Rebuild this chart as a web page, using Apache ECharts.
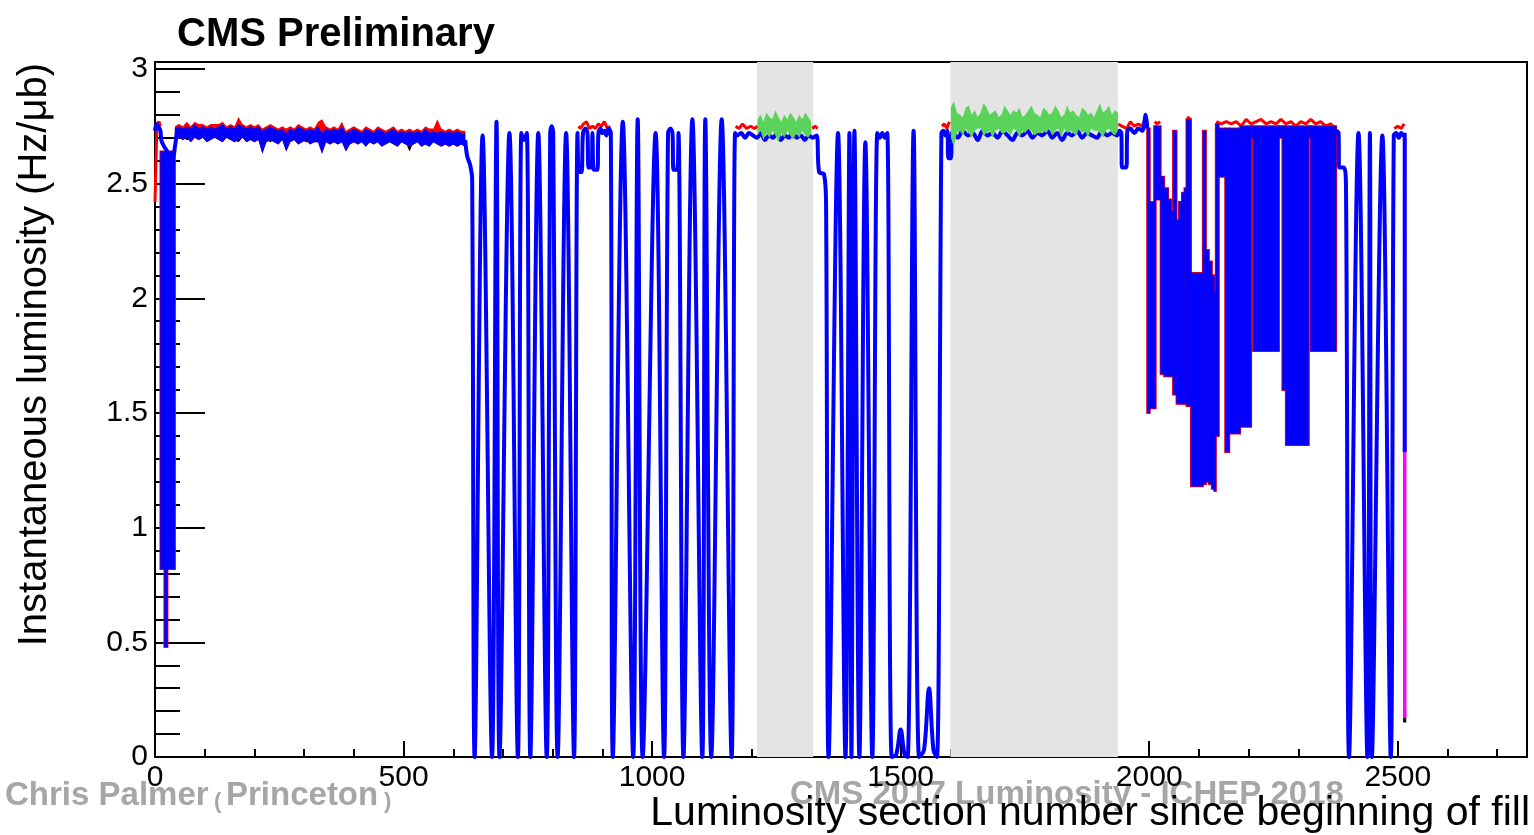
<!DOCTYPE html>
<html><head><meta charset="utf-8">
<script src="https://cdn.jsdelivr.net/npm/echarts@6/dist/echarts.min.js"></script>
<style>html,body{margin:0;padding:0;background:#fff}#c{width:1534px;height:835px}</style>
</head><body><div id="c"></div>
<script>
// ---------------- axis ticks ----------------
const xMajorTicks = [0, 500, 1000, 1500, 2000, 2500];
const xMinorTicks = [100,200,300,400,600,700,800,900,1100,1200,1300,1400,1600,1700,1800,1900,2100,2200,2300,2400,2600,2700];
const yMajorTicks = [0, 0.5, 1, 1.5, 2, 2.5, 3];
const yMinorTicks = [0.1,0.2,0.3,0.4,0.6,0.7,0.8,0.9,1.1,1.2,1.3,1.4,1.6,1.7,1.8,1.9,2.1,2.2,2.3,2.4,2.6,2.7,2.8,2.9];

// ---------------- shaded lumi-section ranges ----------------
const grayBands = [[1211, 1324], [1600, 1937]];

// ---------------- first long plateau (x = 40, 48, ... 624): noisy envelopes ----------------
const plateau1X0 = 40, plateau1Step = 8;
const plateau1BlueHi = [2.74,2.75,2.74,2.75,2.74,2.76,2.74,2.75,2.74,2.75, 2.74,2.75,2.76,2.74,2.75,2.74,2.76,2.75,2.74,2.75,
  2.74,2.75,2.73,2.74,2.75,2.74,2.73,2.74,2.72,2.74, 2.73,2.75,2.74,2.73,2.74,2.73,2.75,2.72,2.74,2.73,
  2.74,2.73,2.75,2.72,2.73,2.74,2.73,2.72,2.74,2.73, 2.72,2.74,2.73,2.72,2.73,2.74,2.72,2.73,2.72,2.73,
  2.72,2.73,2.72,2.74,2.72,2.73,2.72,2.73,2.72,2.73, 2.72,2.73,2.72,2.72];
const plateau1BlueLo = [2.69,2.70,2.69,2.70,2.68,2.70,2.69,2.70,2.68,2.69, 2.70,2.69,2.68,2.70,2.69,2.68,2.69,2.70,2.68,2.69,
  2.68,2.69,2.63,2.68,2.69,2.68,2.67,2.69,2.64,2.68, 2.69,2.67,2.68,2.69,2.67,2.68,2.68,2.63,2.68,2.67,
  2.68,2.67,2.68,2.64,2.67,2.68,2.67,2.68,2.66,2.68, 2.67,2.68,2.66,2.67,2.68,2.67,2.66,2.68,2.67,2.66,
  2.67,2.68,2.66,2.67,2.66,2.68,2.67,2.66,2.67,2.66, 2.67,2.66,2.67,2.66];
const plateau1RedHi = [2.75,2.76,2.75,2.77,2.75,2.77,2.76,2.76,2.75,2.76, 2.76,2.76,2.77,2.75,2.76,2.75,2.79,2.76,2.75,2.76,
  2.75,2.76,2.74,2.75,2.76,2.75,2.74,2.75,2.74,2.75, 2.74,2.76,2.75,2.74,2.75,2.74,2.77,2.78,2.75,2.74,
  2.75,2.74,2.77,2.73,2.74,2.75,2.74,2.73,2.75,2.74, 2.73,2.75,2.74,2.73,2.74,2.75,2.73,2.74,2.73,2.74,
  2.73,2.74,2.73,2.75,2.74,2.74,2.78,2.74,2.73,2.74, 2.73,2.74,2.73,2.73];
const plateau1BlackLo = [2.70,2.70,2.70,2.69,2.69,2.70,2.69,2.70,2.69,2.70, 2.70,2.70,2.69,2.70,2.69,2.69,2.68,2.70,2.69,2.70,
  2.69,2.69,2.66,2.69,2.68,2.69,2.68,2.69,2.66,2.69, 2.69,2.68,2.69,2.68,2.68,2.69,2.68,2.66,2.69,2.68,
  2.69,2.68,2.69,2.66,2.68,2.69,2.68,2.69,2.67,2.69, 2.68,2.69,2.67,2.68,2.68,2.68,2.67,2.69,2.68,2.64,
  2.68,2.68,2.67,2.68,2.67,2.69,2.67,2.67,2.68,2.67, 2.68,2.67,2.68,2.67];

// ---------------- blue (main) trace ----------------
const blueStart = [[0,2.73],[3,2.76],[6,2.75],[9,2.74],[11,2.73],[14,2.68],[36,2.62],[40,2.66],[44,2.72]];
const blueOsc1 = [[624,2.69],[628,2.62],[634,2.58],[638,2.52],[643,0],[659,2.71],[678,0],[687,2.77],[693,0],[713,2.72],[730,0],
  [737,2.72],[742,2.69],[748,2.72],[755,0],[771,2.72],[788,0],[795,2.72],[798,2.75],[801,2.72],[810,0],[827,2.72],[843,0],
  [850,2.72],[853,2.55],[858,2.55],[861,2.72],[866,2.74],[870,2.72],[872,2.57],[878,2.57],[880,2.72],[883,2.56],[890,2.56],
  [892,2.72],[896,2.74],[900,2.72],[904,2.73],[908,2.71],[912,2.74],[917,2.72],[921,0],[941,2.77],[962,0],[971,2.78],[981,0],
  [1007,2.72],[1024,0],[1032,2.72],[1037,2.74],[1041,2.72],[1043,2.56],[1050,2.56],[1053,2.72],[1063,0],[1081,2.78],[1101,0],
  [1107,2.78],[1119,0],[1140,2.78],[1160,0],[1167,2.72]];
const bluePlateau3 = [2.71,2.72,2.70,2.72,2.71,2.70,2.72,2.69,2.71,2.70,2.72,2.69,2.71,2.70,2.72,2.70,2.71,2.69,2.71,2.70,2.71]; // x = 1171 ... 1331
const blueOsc2 = [[1336,2.55],[1346,2.54],[1350,2.40],[1355,0],[1374,2.72],[1389,0],[1397,2.72],[1401,0],[1407,2.73],[1417,0],
  [1429,2.68],[1443,0],[1453,2.72],[1458,2.70],[1463,2.72],[1468,2.70],[1473,2.72],[1482,0],[1491,0.01],[1500,0.12],[1508,0.01],
  [1514,0],[1526,2.73],[1537,0],[1547,0.03],[1557,0.30],[1566,0.03],[1573,0],[1582,2.72],[1586,2.73],[1590,2.71],[1594,2.73],
  [1596,2.61],[1601,2.61],[1603,2.72]];
const bluePlateau4 = [2.72,2.70,2.73,2.71,2.72,2.69,2.73,2.71,2.72,2.70,2.73,2.71,2.69,2.72,2.71,2.73,2.70,2.72,2.71,2.73,
  2.70,2.72,2.69,2.72,2.71,2.73,2.70,2.72,2.71,2.70,2.73,2.71,2.72,2.71]; // x = 1605 ... 1935
const blueOsc3 = [[1940,2.73],[1944,2.72],[1945,2.57],[1954,2.57],[1956,2.73],[1962,2.74],[1970,2.72],[1978,2.74],[1986,2.73],[1993,2.80],[1996,2.74]];
const blueOsc4 = [[2376,2.73],[2381,2.72],[2382,2.57],[2392,2.57],[2396,2.45],[2402,0],[2421,2.72],[2439,0],[2444,2.72],[2448,0],
  [2469,2.71],[2486,0],[2492,2.71],[2497,2.72],[2502,2.70],[2507,2.72],[2511,2.71],[2514,2.72],[2514,1.33]];

// dense (rapidly alternating) regions: [xStart, xEnd, low, high]
const denseBlocks = [[11,40,0.82,2.64],[19,25,0.48,2.58],
  [1996,2001,1.50,2.74],[2001,2010,1.52,2.42],[2010,2013,1.52,2.75],[2013,2023,2.43,2.75],[2023,2030,1.67,2.53],
  [2030,2038,1.66,2.48],[2038,2044,1.66,2.43],[2044,2048,1.66,2.38],[2048,2055,1.58,2.73],[2055,2060,1.54,2.34],
  [2060,2066,1.54,2.42],[2066,2071,1.54,2.46],[2071,2075,1.54,2.48],[2075,2084,1.53,2.78],[2084,2108,1.18,2.11],
  [2108,2114,1.19,2.73],[2114,2120,1.20,2.21],[2120,2126,1.19,2.16],[2126,2131,1.17,2.10],[2131,2134,1.16,2.03],
  [2134,2140,1.40,2.76],[2140,2153,2.53,2.74],[2153,2161,1.33,2.74],[2161,2183,1.41,2.74],[2183,2205,1.44,2.75],
  [2205,2209,2.70,2.75],[2209,2261,1.77,2.75],[2261,2268,2.70,2.75],[2268,2275,1.60,2.75],[2275,2321,1.36,2.75],
  [2321,2325,2.70,2.75],[2325,2376,1.77,2.75]];

// ---------------- red trace (visible above blue) ----------------
const redStart = [[0,2.42],[2,2.60],[4,2.76],[8,2.77],[11,2.75]];
const redOther = [[852,2.75],[856,2.74],[862,2.76],[868,2.77],[874,2.74],[880,2.75],[886,2.74],[892,2.76],[898,2.75],[904,2.77],[910,2.74],[916,2.75],[917,null],
  [1168,2.75],[1175,2.74],[1182,2.76],[1190,2.74],[1198,2.75],[1206,2.74],[1212,2.75],[1213,null],
  [1322,2.74],[1328,2.75],[1333,2.74],[1334,null],
  [1583,2.75],[1588,2.76],[1593,2.74],[1598,2.77],[1599,null],
  [1938,2.76],[1945,2.75],[1955,2.74],[1962,2.77],[1970,2.75],[1978,2.76],[1986,2.75],[1993,2.79],[1996,2.75],[1997,null],
  [2011,2.77],[2016,2.76],[2022,2.77],[2023,null],[2076,2.79],[2083,2.78],[2084,null],[2135,2.77],[2145,2.76],[2155,2.77],
  [2165,2.76],[2175,2.77],[2185,2.75],[2195,2.78],[2205,2.76],[2215,2.77],[2225,2.78],[2235,2.76],[2245,2.77],[2255,2.76],
  [2265,2.78],[2275,2.76],[2285,2.77],[2295,2.75],[2305,2.77],[2315,2.76],[2325,2.78],[2335,2.76],[2345,2.77],[2355,2.75],
  [2365,2.76],[2375,2.74],[2376,null],
  [2493,2.74],[2500,2.75],[2507,2.74],[2513,2.76]];

// ---------------- black / magenta end of fill ----------------
const blackEnd = [[2514,0.20],[2514,0.15]];
const magentaEnd = [[2514,2.70],[2514,0.17]];

// ---------------- green trace (inside shaded ranges): noisy envelopes ----------------
const green1X0 = 1212, green1Step = 6;
const green1Hi = [2.78,2.80,2.77,2.81,2.79,2.78,2.82,2.79,2.77,2.80,2.78,2.81,2.79,2.77,2.80,2.78,2.81,2.79,2.77];
const green1Lo = [2.71,2.73,2.69,2.72,2.70,2.73,2.71,2.68,2.72,2.70,2.73,2.71,2.69,2.72,2.70,2.73,2.71,2.70,2.72];
const green2X0 = 1601, green2Step = 6;
const green2Hi = [2.83,2.86,2.81,2.80,2.79,2.83,2.84,2.80,2.82,2.79, 2.81,2.85,2.83,2.80,2.81,2.82,2.79,2.80,2.84,2.82,
  2.80,2.82,2.81,2.83,2.79,2.80,2.82,2.84,2.81,2.80, 2.79,2.83,2.82,2.80,2.81,2.84,2.82,2.79,2.80,2.84,
  2.81,2.82,2.80,2.79,2.83,2.82,2.80,2.81,2.79,2.82, 2.85,2.81,2.82,2.84,2.80,2.82,2.81];
const green2Lo = [2.70,2.66,2.72,2.73,2.71,2.74,2.72,2.70,2.73,2.74, 2.74,2.71,2.72,2.73,2.70,2.73,2.74,2.72,2.72,2.73,
  2.71,2.74,2.73,2.70,2.73,2.72,2.74,2.73,2.71,2.72, 2.72,2.73,2.72,2.74,2.71,2.73,2.74,2.70,2.74,2.72,
  2.73,2.72,2.71,2.74,2.72,2.73,2.70,2.74,2.73,2.73, 2.72,2.70,2.73,2.74,2.72,2.71,2.73];

// ---------------- build ----------------
function expand(x0, step, ys) { return ys.map((y, i) => [x0 + i * step, y]); }

const blueData = [].concat(blueStart, [[45, null]], blueOsc1, expand(1171, 8, bluePlateau3),
  blueOsc2, expand(1605, 10, bluePlateau4), blueOsc3, [[1997, null]], blueOsc4);
const redData = [].concat(redStart, [[12, null]], redOther);

const FONT = '"Liberation Sans", Arial, Helvetica, sans-serif';
const chart = echarts.init(document.getElementById('c'), null, {renderer: 'canvas'});

function blockRender(fill, stroke, lw) {
  return function (params, api) {
    const p0 = api.coord([api.value(0), api.value(3)]);
    const p1 = api.coord([api.value(1), api.value(2)]);
    return {type: 'rect', shape: {x: p0[0], y: p0[1], width: p1[0] - p0[0], height: p1[1] - p0[1]},
      style: {fill: fill, stroke: stroke, lineWidth: lw}};
  };
}
function bandSeries(name, x0, step, lo, hi, color, z) {
  return {type: 'custom', name: name, z: z, silent: true, data: [[x0, hi[0]]], encode: {x: 0, y: 1},
    renderItem: function (params, api) {
      const pts = [];
      for (let i = 0; i < hi.length; i++) pts.push(api.coord([x0 + i * step, hi[i]]));
      for (let i = lo.length - 1; i >= 0; i--) pts.push(api.coord([x0 + i * step, lo[i]]));
      return {type: 'polygon', shape: {points: pts}, style: {fill: color}};
    }};
}

const axisCommonX = {type: 'value', min: 0, max: 2760, position: 'bottom', splitLine: {show: false}};
const axisCommonY = {type: 'value', min: 0, max: 3.03, position: 'left', splitLine: {show: false}};

chart.setOption({
  animation: false,
  backgroundColor: '#fff',
  grid: {left: 155, right: 7, top: 62, bottom: 78, show: true, borderColor: '#000', borderWidth: 2,
    backgroundColor: 'transparent', containLabel: false, outerBoundsMode: 'none'},
  xAxis: [
    Object.assign({}, axisCommonX, {
      axisLine: {show: true, onZero: false, lineStyle: {color: '#000', width: 2}},
      axisTick: {show: true, inside: true, length: 16, customValues: xMajorTicks, lineStyle: {color: '#000', width: 2}},
      axisLabel: {show: true, customValues: xMajorTicks, color: '#000', fontSize: 30, fontFamily: FONT, margin: 6,
        formatter: v => String(v)}
    }),
    Object.assign({}, axisCommonX, {
      axisLine: {show: false, onZero: false},
      axisTick: {show: true, inside: true, length: 8, customValues: xMinorTicks, lineStyle: {color: '#000', width: 2}},
      axisLabel: {show: false}
    })
  ],
  yAxis: [
    Object.assign({}, axisCommonY, {
      axisLine: {show: true, onZero: false, lineStyle: {color: '#000', width: 2}},
      axisTick: {show: true, inside: true, length: 50, customValues: yMajorTicks, lineStyle: {color: '#000', width: 2}},
      axisLabel: {show: true, customValues: yMajorTicks, color: '#000', fontSize: 30, fontFamily: FONT, margin: 7,
        formatter: v => String(v)}
    }),
    Object.assign({}, axisCommonY, {
      axisLine: {show: false, onZero: false},
      axisTick: {show: true, inside: true, length: 25, customValues: yMinorTicks, lineStyle: {color: '#000', width: 2}},
      axisLabel: {show: false}
    })
  ],
  graphic: [
    {type: 'text', x: 177, y: 35, style: {text: 'CMS Preliminary', font: 'bold 40px ' + FONT, fill: '#000', align: 'left', verticalAlign: 'middle'}},
    {type: 'text', x: 35, y: 63, rotation: Math.PI / 2,
      style: {text: 'Instantaneous luminosity (Hz/μb)', font: '40px ' + FONT, fill: '#000', align: 'right', verticalAlign: 'middle'}},
    {type: 'text', x: 5, y: 796, style: {text: 'Chris Palmer', font: 'bold 33px ' + FONT, fill: '#a6a6a6', align: 'left', verticalAlign: 'middle'}},
    {type: 'text', x: 214, y: 802, style: {text: '(', font: 'bold 22px ' + FONT, fill: '#a6a6a6', align: 'left', verticalAlign: 'middle'}},
    {type: 'text', x: 226, y: 796, style: {text: 'Princeton', font: 'bold 33px ' + FONT, fill: '#a6a6a6', align: 'left', verticalAlign: 'middle'}},
    {type: 'text', x: 384, y: 802, style: {text: ')', font: 'bold 22px ' + FONT, fill: '#a6a6a6', align: 'left', verticalAlign: 'middle'}},
    {type: 'text', x: 790, y: 795, style: {text: 'CMS 2017 Luminosity - ICHEP 2018', font: 'bold 33px ' + FONT, fill: '#a6a6a6', align: 'left', verticalAlign: 'middle'}},
    {type: 'text', x: 1530, y: 814, z: 100, style: {text: 'Luminosity section number since beginning of fill', font: '41px ' + FONT, fill: '#000', align: 'right', verticalAlign: 'middle'}}
  ],
  series: [
    {type: 'line', data: [], silent: true, z: 1,
      markArea: {silent: true, itemStyle: {color: '#e4e4e4'},
        data: grayBands.map(b => [{xAxis: b[0]}, {xAxis: b[1]}])}},
    bandSeries('blackPlateau', plateau1X0, plateau1Step, plateau1BlackLo, plateau1BlueHi, '#000000', 2),
    bandSeries('redPlateau', plateau1X0, plateau1Step, plateau1BlueLo, plateau1RedHi, '#ff0000', 2),
    {type: 'line', name: 'black', data: blackEnd, showSymbol: false, lineStyle: {color: '#000', width: 3}, z: 2},
    {type: 'line', name: 'red', data: redData, showSymbol: false, lineStyle: {color: '#ff0000', width: 3}, z: 2},
    {type: 'line', name: 'magenta', data: magentaEnd, showSymbol: false, lineStyle: {color: '#ff00ff', width: 3.5}, z: 2},
    {type: 'custom', name: 'redDense', data: denseBlocks, encode: {x: [0, 1], y: [2, 3]}, z: 2,
      renderItem: blockRender('#ff0000', '#ff0000', 2)},
    bandSeries('bluePlateau', plateau1X0, plateau1Step, plateau1BlueLo, plateau1BlueHi, '#0000ff', 3),
    {type: 'custom', name: 'blueDense', data: denseBlocks, encode: {x: [0, 1], y: [2, 3]}, z: 3,
      renderItem: blockRender('#0000ff', '#0000ff', 0.5)},
    {type: 'line', name: 'blue', data: blueData, showSymbol: false, smooth: 0.35, lineStyle: {color: '#0000ff', width: 4}, z: 3},
    bandSeries('green1', green1X0, green1Step, green1Lo, green1Hi, '#5ad35a', 4),
    bandSeries('green2', green2X0, green2Step, green2Lo, green2Hi, '#5ad35a', 4)
  ]
});
</script></body></html>
